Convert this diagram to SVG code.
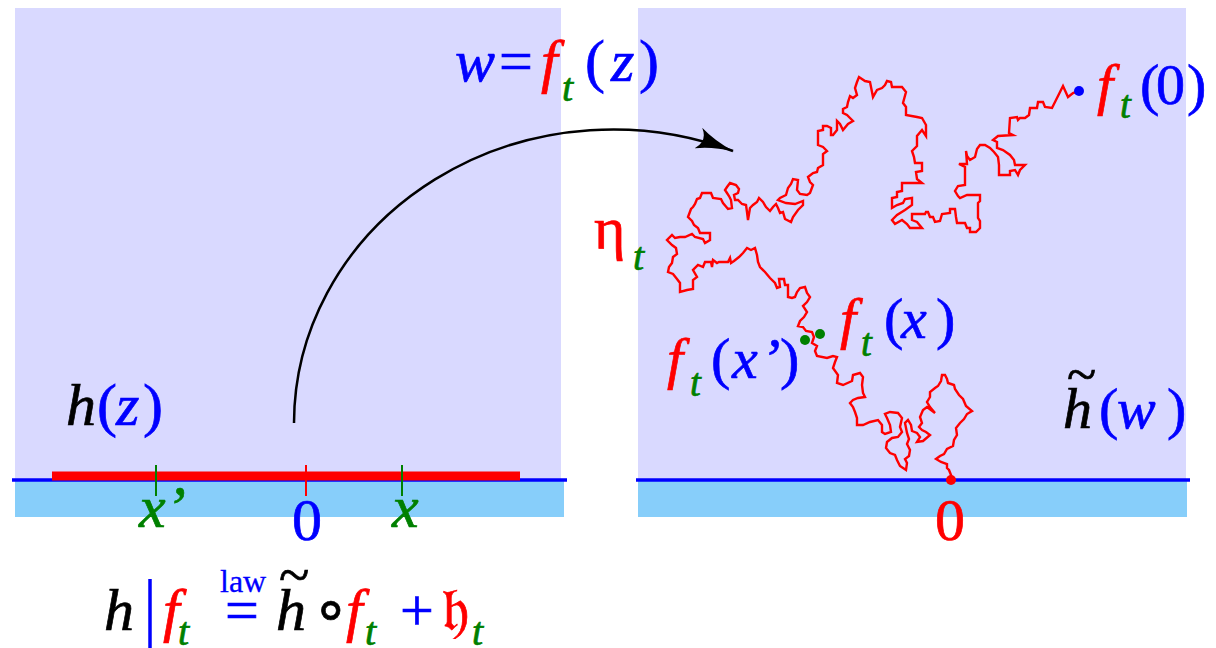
<svg xmlns="http://www.w3.org/2000/svg" width="1216" height="648" viewBox="0 0 1216 648" font-family="'Liberation Serif', 'Times New Roman', Times, serif">
<style>
text{font-family:'Liberation Serif','Times New Roman',Times,serif;stroke-width:0.7}
.i{font-style:italic}
.k{fill:#000;stroke:#000}
.b{fill:#0000ff;stroke:#0000ff}
.r{fill:#ff0000;stroke:#ff0000}
.g{fill:#008000;stroke:#008000}
.big{font-size:60px}
.mid{font-size:58px}
.sub{font-size:40px}
.subm{font-size:39px}
.panel{fill:#d9d9ff}
.ground{fill:#87cefa}
.axis{stroke:#0000ff;stroke-width:3.5}
</style>
<defs>
<marker id="arr" viewBox="0 0 38 22" refX="37" refY="11" markerWidth="38" markerHeight="22" markerUnits="userSpaceOnUse" orient="auto">
<path d="M0,0 Q16,8 38,11 Q16,14 0,22 Q10,11 0,0 z" fill="#000"/>
</marker>
</defs>
<rect width="1216" height="648" fill="#fff"/>

<g id="left-panel">
<rect class="panel" x="15" y="8" width="546" height="472"/>
<rect class="ground" x="15" y="480" width="549" height="37"/>
<line class="axis" x1="12" y1="480" x2="567" y2="480"/>
<line x1="52" y1="476" x2="520" y2="476" stroke="#ff0000" stroke-width="9"/>
<line x1="156" y1="465" x2="156" y2="496" stroke="#008000" stroke-width="2"/>
<line x1="306" y1="465" x2="306" y2="496" stroke="#ff0000" stroke-width="2"/>
<line x1="402" y1="465" x2="402" y2="496" stroke="#008000" stroke-width="2"/>
<text class="big" y="425"><tspan class="i k" x="66">h</tspan><tspan class="b" x="97">(</tspan><tspan class="i b" x="116">z</tspan><tspan class="b" x="143">)</tspan></text>
<text class="i g big" x="139" y="527">x’</text>
<text class="b big" x="292" y="540">0</text>
<text class="i g big" x="392" y="527">x</text>
</g>

<g id="right-panel">
<rect class="panel" x="638" y="8" width="548" height="472"/>
<rect class="ground" x="638" y="480" width="549" height="37"/>
<line class="axis" x1="636" y1="480" x2="1190" y2="480"/>
<text class="r big" x="935" y="540">0</text>
</g>

<g id="map-label">
<text class="big" y="81"><tspan class="i b" x="455">w</tspan><tspan class="b" x="499">=</tspan><tspan class="i r" x="541">f</tspan><tspan class="b" x="585">(</tspan><tspan class="i b" x="611">z</tspan><tspan class="b" x="639">)</tspan></text>
<text class="i g sub" x="562" y="101">t</text>
</g>

<g id="curve-eta">
<polyline fill="none" stroke="#ff0000" stroke-width="2.4" stroke-linejoin="miter" points="1079,91 1073,93 1068,97 1063,86 1052,108 1045,107 1043,102 1038,102 1037,108 1030,108 1029,115 1025,118 1020,118 1018,120 1017,117 1010,118 1009,133 1013,135 998,136 993,140 997,142 997,148 1003,150 1010,155 1014,160 1015,165 1025,165 1020,170 1018,175 1015,170 1010,171 1010,175 999,175 999,165 998,157 994,152 990,148 985,145 980,145 977,149 975,157 970,160 967,156 966,151 967,164 959,164 965,167 965,185 958,186 955,191 958,196 960,198 967,195 980,195 980,201 978,203 978,218 980,221 980,228 976,232 970,232 970,228 967,228 965,223 957,223 956,217 955,209 950,209 950,213 942,214 940,221 935,222 933,217 930,217 928,212 926,212 925,214 912,214 912,220 917,222 922,228 910,228 907,224 902,220 895,224 892,220 897,215 905,210 912,205 912,198 905,199 903,203 897,205 892,208 892,198 897,197 897,192 902,191 902,183 922,183 917,179 916,172 922,171 922,163 915,163 914,157 912,151 917,146 917,136 922,130 926,136 926,125 922,118 917,117 906,115 906,107 903,103 906,92 902,87 892,87 891,82 887,81 885,85 882,88 877,90 873,97 872,92 870,82 865,81 859,77 857,82 855,88 857,95 853,98 850,96 848,102 847,107 843,109 843,113 847,115 850,118 853,121 848,124 843,130 840,124 837,121 837,130 833,135 831,135 831,128 827,126 823,126 823,130 818,131 818,145 823,147 827,151 823,154 823,165 818,168 817,172 813,173 808,177 810,182 813,185 810,193 807,195 800,194 797,190 798,180 793,179 791,184 788,188 786,195 780,198 778,200 786,203 795,204 803,201 803,205 798,210 793,217 791,222 785,219 783,212 780,213 778,208 776,204 773,207 770,211 766,207 763,202 759,198 757,202 753,205 750,208 748,220 747,212 746,205 742,204 738,200 735,200 734,195 738,193 739,189 736,185 730,183 727,187 725,190 727,193 729,196 731,200 732,208 728,209 723,203 721,199 713,198 711,193 702,193 700,198 697,199 695,204 693,207 691,209 688,217 692,221 694,225 698,228 700,233 710,233 710,240 705,243 703,239 695,237 692,234 685,237 680,237 675,238 672,235 667,240 672,245 676,248 677,254 673,257 672,263 669,267 668,272 673,274 677,279 680,283 680,292 687,290 693,289 693,280 697,277 693,270 698,265 703,267 705,262 711,262 712,267 713,260 717,263 719,262 728,262 730,258 731,263 734,261 739,257 743,253 747,248 751,250 755,248 757,255 758,262 760,267 765,272 770,278 775,283 777,288 780,287 779,279 784,279 785,285 788,285 788,297 792,298 795,297 797,292 800,288 805,287 807,293 810,297 807,302 803,306 807,312 804,317 800,321 798,326 803,327 806,331 812,332 814,337 812,343 817,346 815,351 817,356 827,358 833,356 837,357 835,362 833,368 838,375 837,383 843,385 852,381 853,375 860,373 863,377 862,385 863,393 865,397 858,398 853,400 850,403 853,407 855,412 857,418 857,425 863,425 870,422 878,420 882,425 882,432 885,434 891,432 890,425 887,418 885,414 890,412 898,413 902,418 900,427 902,432 898,437 892,438 887,442 886,448 890,453 895,455 897,460 900,466 906,470 907,463 905,459 909,456 910,450 907,444 909,439 907,433 905,423 908,420 911,425 912,431 917,433 920,437 917,442 923,441 930,435 926,432 922,430 919,427 922,423 920,417 923,410 927,407 935,413 930,407 927,402 930,397 930,392 935,388 938,386 941,381 942,375 945,375 947,379 948,383 954,385 955,389 959,395 963,399 966,406 972,411 967,414 964,419 960,423 956,428 957,435 954,440 953,446 947,449 944,454 940,456 936,459 941,462 947,464 947,468 949,470 951,475 951,480"/>
<circle cx="951" cy="480" r="5" fill="#ff0000"/>
<circle cx="1079" cy="91" r="5" fill="#0000ff"/>
<circle cx="805" cy="340" r="5" fill="#008000"/>
<circle cx="820" cy="334" r="5" fill="#008000"/>
</g>

<g id="labels-right">
<text class="r big" x="594" y="248">η</text>
<text class="i g sub" x="633" y="270">t</text>
<text class="mid" y="104"><tspan class="i r" x="1097">f</tspan><tspan class="b" x="1140">(</tspan><tspan class="b" x="1156">0</tspan><tspan class="b" x="1187">)</tspan></text>
<text class="i g subm" x="1120" y="118">t</text>
<text class="mid" y="338"><tspan class="i r" x="840">f</tspan><tspan class="b" x="884">(</tspan><tspan class="i b" x="901">x</tspan><tspan class="b" x="936">)</tspan></text>
<text class="i g subm" x="861" y="356">t</text>
<text class="mid" y="378"><tspan class="i r" x="667">f</tspan><tspan class="b" x="711">(</tspan><tspan class="i b" x="732">x</tspan><tspan class="i b" x="761">’</tspan><tspan class="b" x="780">)</tspan></text>
<text class="i g subm" x="690" y="396">t</text>
<text class="k" x="1067" y="393" font-size="54">~</text>
<text class="mid" y="428"><tspan class="i k" x="1063">h</tspan><tspan class="b" x="1099">(</tspan><tspan class="i b" x="1117">w</tspan><tspan class="b" x="1167">)</tspan></text>
</g>

<g id="formula">
<text class="i k big" x="104" y="630">h</text>
<line x1="150" y1="579" x2="150" y2="648" stroke="#0000ff" stroke-width="3.5"/>
<text class="i r big" x="163" y="630">f</text>
<text class="i g sub" x="178" y="645">t</text>
<text class="b" x="220" y="592" font-size="32" style="stroke-width:0.3">law</text>
<text class="b big" x="225" y="630">=</text>
<text class="k" x="279" y="594" font-size="56">~</text>
<text class="i k big" x="276" y="630">h</text>
<text class="k big" x="312" y="630">∘</text>
<text class="i r big" x="346" y="630">f</text>
<text class="i g sub" x="365" y="645">t</text>
<text class="b big" x="400" y="630">+</text>
<text class="r big" x="442" y="630" style="font-family:'DejaVu Serif','DejaVu Sans','Noto Sans',serif">𝔥</text>
<text class="i g sub" x="472" y="645">t</text>
</g>

<g id="connectors">
<path d="M294,423 A319,294 0 0 1 733,151" fill="none" stroke="#000" stroke-width="2.5" marker-end="url(#arr)"/>
</g>
</svg>
